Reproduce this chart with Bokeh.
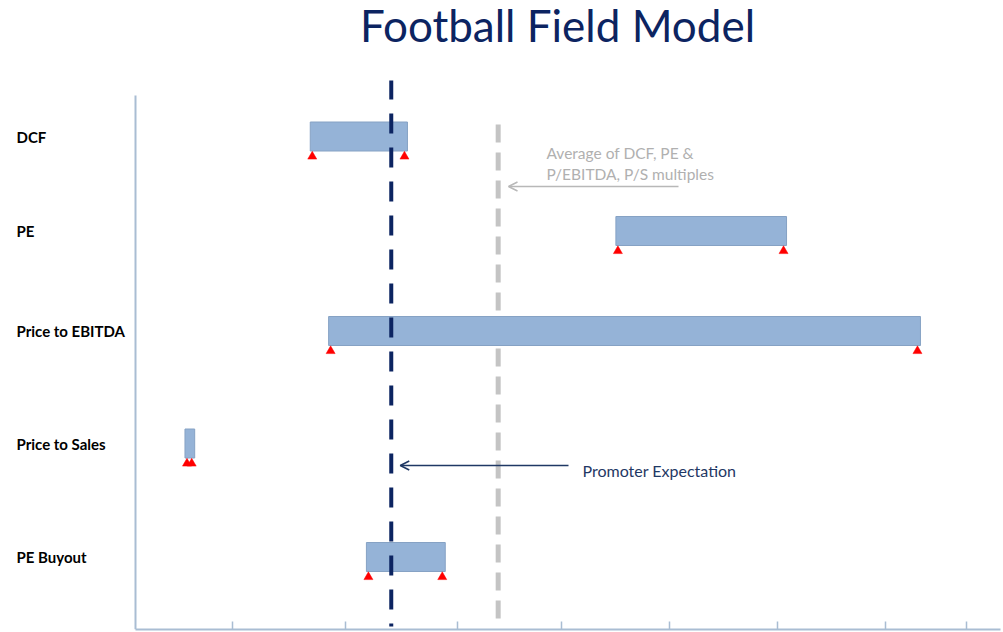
from bokeh.plotting import figure
from bokeh.models import Range1d, FixedTicker, Arrow, OpenHead, ColumnDataSource
from bokeh.core.properties import value
from bokeh.embed import file_html
from bokeh.resources import INLINE

# ---- data (valuation ranges) ----
methods = ["DCF", "PE", "Price to EBITDA", "Price to Sales", "PE Buyout"]
low = [172, 455, 189, 56, 224]
high = [262, 613, 737, 65, 297]
row_pos = [4.93, 3.985, 2.985, 1.86, 0.725]
promoter_expectation = 247
average_multiples = 346
x_ticks = [100, 205, 308, 405, 505, 605, 705, 780]

title_text = "Football Field Model"
avg_note = ["Average of DCF, PE &", "P/EBITDA, P/S multiples"]
promoter_note = "Promoter Expectation"

# ---- layout constants ----
PX = 1.08          # pixels per data unit on x
X0 = 124           # pixel of data 0
W, H = 1003, 632
FRAME_BOTTOM = 629

def dx(px):
    return (px - X0) / PX

def dy(py):
    return (FRAME_BOTTOM - py) / 100.0

NAVY = "#0c2461"
GREY = "#c4c4c4"
AXIS = "#a9bdd3"

p = figure(width=W, height=H, output_backend="svg", toolbar_location=None,
           x_range=Range1d(dx(0), dx(W)), y_range=Range1d(0, dy(0)),
           min_border_left=0, min_border_right=0, min_border_top=0,
           min_border_bottom=H - FRAME_BOTTOM)
p.outline_line_color = None
p.xgrid.visible = False
p.ygrid.visible = False
p.background_fill_color = "white"
p.border_fill_color = "white"

# x axis
xa = p.xaxis[0]
xa.ticker = FixedTicker(ticks=x_ticks, minor_ticks=[])
xa.major_label_overrides = {t: "" for t in x_ticks}
xa.major_label_text_font_size = "1px"
xa.major_label_standoff = 0
xa.major_tick_in = 8
xa.major_tick_out = 0
xa.major_tick_line_color = AXIS
xa.major_tick_line_width = 1.5
xa.minor_tick_line_color = None
xa.axis_line_color = AXIS
xa.axis_line_width = 2
xa.bounds = (dx(135), dx(1000))

# y axis
ya = p.yaxis[0]
ya.ticker = FixedTicker(ticks=[], minor_ticks=[])
ya.major_label_text_font_size = "1px"
ya.major_tick_line_color = None
ya.minor_tick_line_color = None
ya.axis_line_color = AXIS
ya.axis_line_width = 2
ya.fixed_location = dx(135)
ya.bounds = (0, dy(95))

# grey dashed average line (behind the bars)
p.segment(x0=[average_multiples], y0=[dy(618)], x1=[average_multiples], y1=[dy(120)],
          line_color=GREY, line_width=5, line_dash="18 10")

# bars
src = ColumnDataSource(dict(y=row_pos, left=low, right=high, name=methods))
p.hbar(y="y", left="left", right="right", height=0.29, source=src,
       fill_color="#95b3d7", line_color="#86a2c4", line_width=1)

# red triangles at the ends of each range
tri_x, tri_y = [], []
for lo, hi, y in zip(low, high, row_pos):
    tri_x += [lo + 2 / PX, hi - 3 / PX]
    tri_y += [y - 0.2, y - 0.2]
p.scatter(tri_x, tri_y, marker="triangle", size=9, fill_color="#ff0000",
          line_color="#ff0000", line_width=0.5)

# navy dashed promoter line (in front)
p.segment(x0=[promoter_expectation], y0=[dy(626)], x1=[promoter_expectation], y1=[dy(80)],
          line_color=NAVY, line_width=4, line_dash="3 14 17 0")

# category labels
p.text(x=[dx(16)] * len(methods), y=row_pos, text=methods,
       text_font=value("Lato"), text_font_style="bold", text_font_size="15px",
       text_color="#000000", text_baseline="middle", text_align="left")

# title
p.text(x=[dx(557)], y=[dy(24)], text=[title_text], text_font=value("Lato"),
       text_font_size="44px", text_color=NAVY, text_align="center",
       text_baseline="middle")

# annotations
p.text(x=[dx(546)] * 2, y=[dy(152), dy(173)], text=avg_note, text_font=value("Lato"),
       text_font_size="15.5px", text_color="#b0b0b0", text_baseline="middle")
p.add_layout(Arrow(x_start=dx(678), y_start=dy(186), x_end=dx(508), y_end=dy(186),
                   line_color="#b8b8b8", line_width=1.5,
                   end=OpenHead(size=9, line_color="#b8b8b8", line_width=1.5)))

p.text(x=[dx(582)], y=[dy(470)], text=[promoter_note], text_font=value("Lato"),
       text_font_size="16px", text_color="#1f3864", text_baseline="middle")
p.add_layout(Arrow(x_start=dx(568), y_start=dy(465), x_end=promoter_expectation + 9 / PX,
                   y_end=dy(465), line_color="#1f3864", line_width=1.5,
                   end=OpenHead(size=9, line_color="#1f3864", line_width=1.5)))

open("out.html", "w").write(file_html(p, INLINE))
